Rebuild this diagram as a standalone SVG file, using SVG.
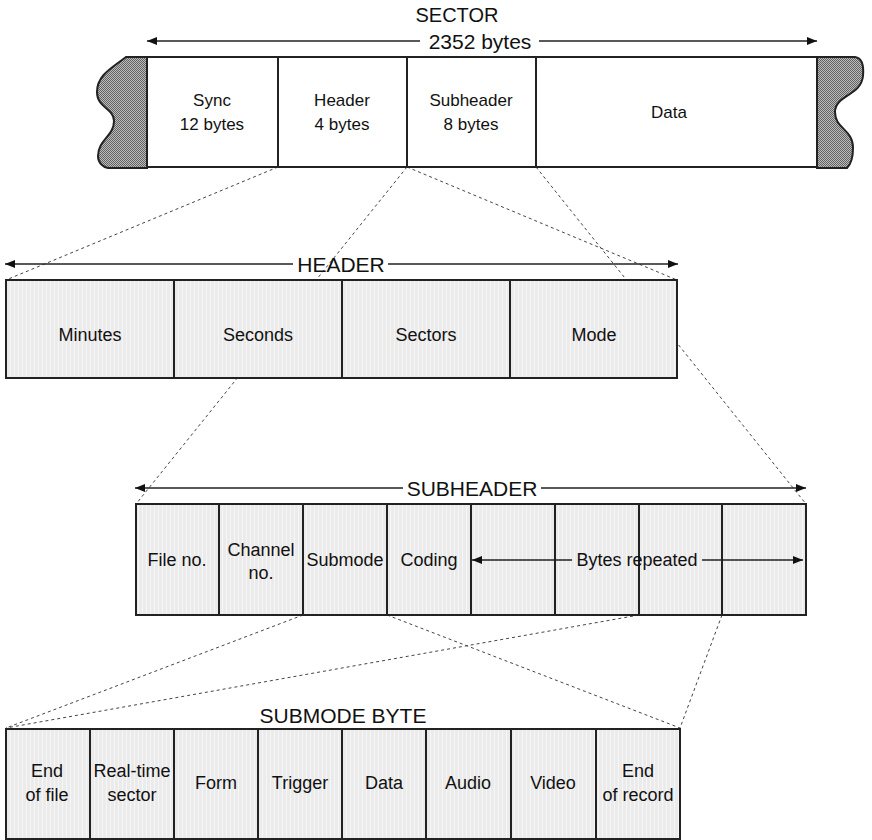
<svg xmlns="http://www.w3.org/2000/svg" width="872" height="840" viewBox="0 0 872 840">
<defs>
<pattern id="lt" width="4" height="4" patternUnits="userSpaceOnUse">
<rect width="4" height="4" fill="#ebebeb"/>
<rect x="2" width="1" height="4" fill="#f6f6f6"/>
</pattern>
<pattern id="dk" width="2" height="2" patternUnits="userSpaceOnUse">
<rect width="2" height="2" fill="#bdbdbd"/>
<rect width="1" height="1" fill="#626262"/>
<rect x="1" y="1" width="1" height="1" fill="#626262"/>
</pattern>
<marker id="ah" viewBox="0 0 10 10" refX="10" refY="5" markerWidth="10" markerHeight="10" markerUnits="userSpaceOnUse" orient="auto-start-reverse">
<path d="M0,1 L10,5 L0,9 Z" fill="#111"/>
</marker>
<style>
text{font-family:"Liberation Sans",Arial,sans-serif;fill:#111;text-anchor:middle}
.c{font-size:17px}
.r{font-size:18px}
.t{font-size:21px}
.box{stroke:#222;stroke-width:2}
.lt{fill:url(#lt)}
.wh{fill:#fff}
.dash{stroke:#444;stroke-width:1;stroke-dasharray:3 3;fill:none}
.ar{stroke:#222;stroke-width:1.4;fill:none}
</style>
</defs>
<rect width="872" height="840" fill="#fff"/>

<g id="connectors">
<line class="dash" x1="278" y1="167" x2="6" y2="280"/>
<line class="dash" x1="407" y1="167" x2="677" y2="280"/>
<line class="dash" x1="407" y1="167" x2="136" y2="504"/>
<line class="dash" x1="536" y1="167" x2="806" y2="504"/>
<line class="dash" x1="303" y1="615" x2="6" y2="728"/>
<line class="dash" x1="639" y1="615" x2="6" y2="728"/>
<line class="dash" x1="387" y1="615" x2="680" y2="728"/>
<line class="dash" x1="722" y1="615" x2="680" y2="728"/>
</g>

<g id="sector">
<text class="t" x="457" y="22" style="font-size:20px">SECTOR</text>
<text class="t" x="480" y="49">2352 bytes</text>
<line class="ar" x1="420" y1="41" x2="147" y2="41" marker-end="url(#ah)"/>
<line class="ar" x1="539" y1="41" x2="817" y2="41" marker-end="url(#ah)"/>
<path d="M147,57 L126,57 C112,68 97,75 97,92 C97,108 114,108 114,121 C114,136 98,140 98,156 C98,163 103,167 108,168 L147,168 Z" fill="url(#dk)" stroke="#222" stroke-width="2"/>
<path d="M817,57 L855,57 C862,58 864,65 863,76 C861,96 835,95 835,112 C835,129 853,129 853,148 C853,160 850,165 847,168 L817,168 Z" fill="url(#dk)" stroke="#222" stroke-width="2"/>
<g id="sec-sync"><rect class="box wh" x="147" y="57" width="131" height="110"/><text class="c" x="212" y="106">Sync</text><text class="c" x="212" y="130">12 bytes</text></g>
<g id="sec-header"><rect class="box wh" x="278" y="57" width="129" height="110"/><text class="c" x="342" y="106">Header</text><text class="c" x="342" y="130">4 bytes</text></g>
<g id="sec-subheader"><rect class="box wh" x="407" y="57" width="129" height="110"/><text class="c" x="471" y="106">Subheader</text><text class="c" x="471" y="130">8 bytes</text></g>
<g id="sec-data"><rect class="box wh" x="536" y="57" width="281" height="110"/><text class="c" x="669" y="118">Data</text></g>
</g>

<g id="header">
<line class="ar" x1="293" y1="264" x2="5" y2="264" marker-end="url(#ah)"/>
<line class="ar" x1="388" y1="264" x2="678" y2="264" marker-end="url(#ah)"/>
<text class="t" x="341" y="272">HEADER</text>
<g id="h-minutes"><rect class="box lt" x="6" y="280" width="168" height="98"/><text class="r" x="90" y="341">Minutes</text></g>
<g id="h-seconds"><rect class="box lt" x="174" y="280" width="168" height="98"/><text class="r" x="258" y="341">Seconds</text></g>
<g id="h-sectors"><rect class="box lt" x="342" y="280" width="168" height="98"/><text class="r" x="426" y="341">Sectors</text></g>
<g id="h-mode"><rect class="box lt" x="510" y="280" width="167" height="98"/><text class="r" x="594" y="341">Mode</text></g>
</g>

<g id="subheader">
<line class="ar" x1="403" y1="488" x2="135" y2="488" marker-end="url(#ah)"/>
<line class="ar" x1="541" y1="488" x2="806" y2="488" marker-end="url(#ah)"/>
<text class="t" x="472" y="496">SUBHEADER</text>
<g id="s-file"><rect class="box lt" x="136" y="504" width="83" height="111"/><text class="r" x="177" y="566">File no.</text></g>
<g id="s-channel"><rect class="box lt" x="219" y="504" width="84" height="111"/><text class="r" x="261" y="556">Channel</text><text class="r" x="261" y="579">no.</text></g>
<g id="s-submode"><rect class="box lt" x="303" y="504" width="84" height="111"/><text class="r" x="345" y="566">Submode</text></g>
<g id="s-coding"><rect class="box lt" x="387" y="504" width="84" height="111"/><text class="r" x="429" y="566">Coding</text></g>
<g id="s-file2"><rect class="box lt" x="471" y="504" width="84" height="111"/></g>
<g id="s-channel2"><rect class="box lt" x="555" y="504" width="84" height="111"/></g>
<g id="s-submode2"><rect class="box lt" x="639" y="504" width="83" height="111"/></g>
<g id="s-coding2"><rect class="box lt" x="722" y="504" width="84" height="111"/></g>
<line class="ar" x1="572" y1="560" x2="472" y2="560" marker-end="url(#ah)"/>
<line class="ar" x1="702" y1="560" x2="803" y2="560" marker-end="url(#ah)"/>
<text class="r" x="637" y="566">Bytes repeated</text>
</g>

<g id="submode">
<text class="t" x="343" y="723">SUBMODE BYTE</text>
<g id="m-eof"><rect class="box lt" x="6" y="729" width="84" height="110"/><text class="r" x="47" y="777">End</text><text class="r" x="47" y="801">of file</text></g>
<g id="m-rt"><rect class="box lt" x="90" y="729" width="84" height="110"/><text class="r" x="132" y="777">Real-time</text><text class="r" x="132" y="801">sector</text></g>
<g id="m-form"><rect class="box lt" x="174" y="729" width="84" height="110"/><text class="r" x="216" y="789">Form</text></g>
<g id="m-trigger"><rect class="box lt" x="258" y="729" width="84" height="110"/><text class="r" x="300" y="789">Trigger</text></g>
<g id="m-data"><rect class="box lt" x="342" y="729" width="84" height="110"/><text class="r" x="384" y="789">Data</text></g>
<g id="m-audio"><rect class="box lt" x="426" y="729" width="85" height="110"/><text class="r" x="468" y="789">Audio</text></g>
<g id="m-video"><rect class="box lt" x="511" y="729" width="85" height="110"/><text class="r" x="553" y="789">Video</text></g>
<g id="m-eor"><rect class="box lt" x="596" y="729" width="84" height="110"/><text class="r" x="638" y="777">End</text><text class="r" x="638" y="801">of record</text></g>
</g>
</svg>
